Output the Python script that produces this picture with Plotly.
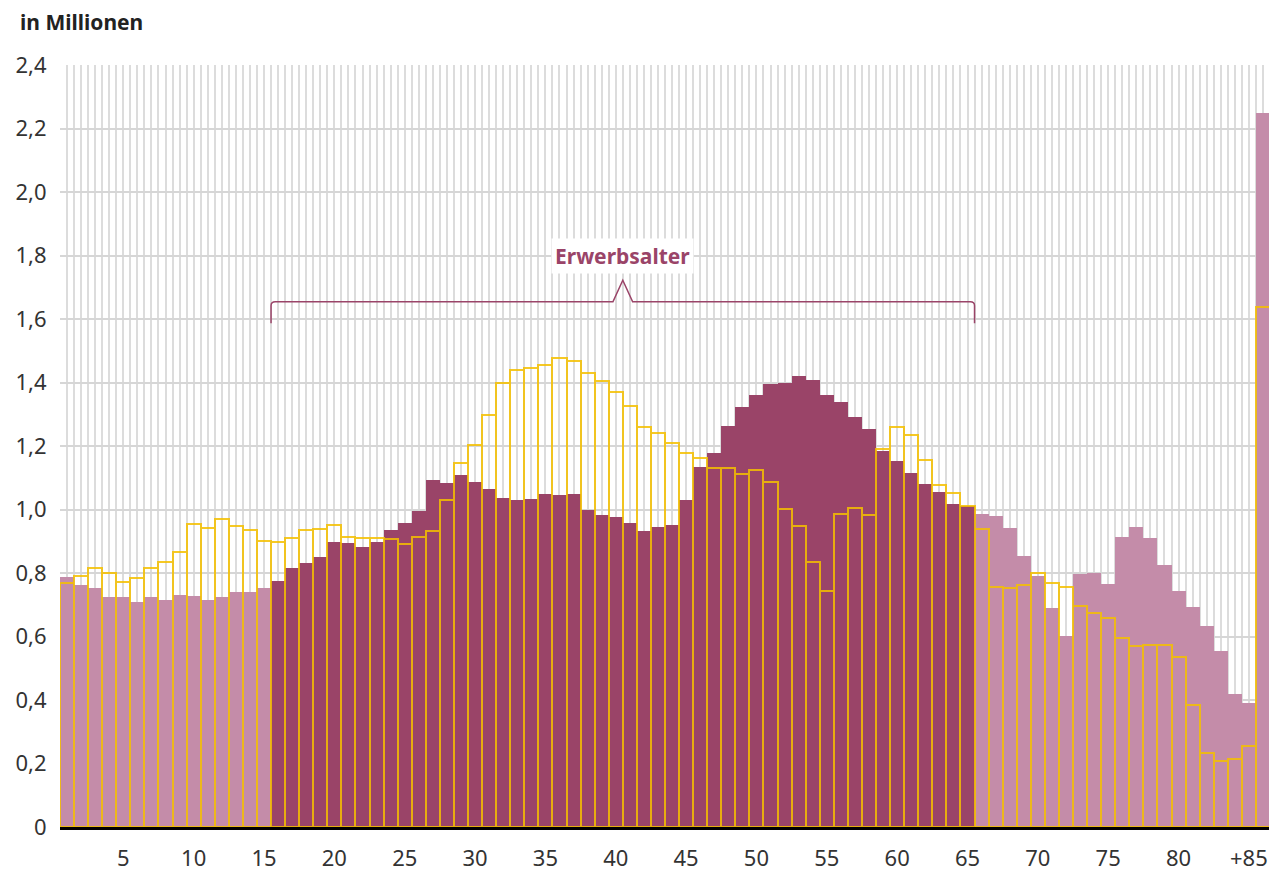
import plotly.graph_objects as go

# Alter (1 bis 86, letzter Balken = 85 und älter)
ages = list(range(1, 87))

# Bevölkerung heute, in Millionen
population = [0.787, 0.762, 0.752, 0.725, 0.723, 0.708, 0.725, 0.715, 0.731, 0.729,
              0.715, 0.723, 0.741, 0.741, 0.754, 0.775, 0.817, 0.830, 0.851, 0.899,
              0.896, 0.883, 0.899, 0.935, 0.956, 0.996, 1.093, 1.082, 1.109, 1.088,
              1.066, 1.035, 1.030, 1.032, 1.050, 1.046, 1.049, 0.998, 0.984, 0.975,
              0.956, 0.932, 0.944, 0.951, 1.030, 1.135, 1.177, 1.264, 1.324, 1.360,
              1.395, 1.399, 1.421, 1.408, 1.361, 1.340, 1.292, 1.254, 1.183, 1.154,
              1.116, 1.079, 1.054, 1.017, 1.011, 0.985, 0.980, 0.943, 0.855, 0.792,
              0.689, 0.602, 0.796, 0.799, 0.765, 0.914, 0.946, 0.911, 0.825, 0.744,
              0.692, 0.634, 0.555, 0.418, 0.390, 2.248]

# Vergleichsjahr (gelbe Umrisse), in Millionen
comparison = [0.770, 0.790, 0.815, 0.800, 0.773, 0.783, 0.815, 0.836, 0.867, 0.954,
              0.943, 0.970, 0.949, 0.935, 0.900, 0.899, 0.909, 0.937, 0.939, 0.950,
              0.914, 0.910, 0.910, 0.907, 0.891, 0.912, 0.932, 1.030, 1.145, 1.203,
              1.298, 1.400, 1.440, 1.445, 1.455, 1.476, 1.469, 1.429, 1.405, 1.369,
              1.326, 1.260, 1.240, 1.210, 1.177, 1.163, 1.130, 1.132, 1.113, 1.123,
              1.088, 1.002, 0.949, 0.836, 0.744, 0.987, 1.006, 0.983, 1.192, 1.259,
              1.235, 1.156, 1.077, 1.051, 1.012, 0.940, 0.757, 0.752, 0.762, 0.800,
              0.770, 0.757, 0.696, 0.673, 0.657, 0.594, 0.571, 0.573, 0.573, 0.536,
              0.384, 0.234, 0.209, 0.213, 0.255, 1.637]

tick_vals = [5, 10, 15, 20, 25, 30, 35, 40, 45, 50, 55, 60, 65, 70, 75, 80, 85]
tick_text = ["5", "10", "15", "20", "25", "30", "35", "40", "45", "50", "55", "60",
             "65", "70", "75", "80", "+85"]
y_vals = [0, 0.2, 0.4, 0.6, 0.8, 1.0, 1.2, 1.4, 1.6, 1.8, 2.0, 2.2, 2.4]
y_text = ["0", "0,2", "0,4", "0,6", "0,8", "1,0", "1,2", "1,4", "1,6", "1,8", "2,0", "2,2", "2,4"]

work_start, work_end = 16, 65

DARK = "#9a4468"
LIGHT = "#c48ca9"
YELLOW = "#f5c000"
FONT = "Noto Sans"

colors = [DARK if work_start <= a <= work_end else LIGHT for a in ages]

fig = go.Figure()
fig.add_trace(go.Bar(x=ages, y=population, marker=dict(color=colors, line=dict(width=0)),
                     name="heute"))
fig.add_trace(go.Bar(x=ages, y=comparison, opacity=0.85,
                     marker=dict(color="rgba(0,0,0,0)", line=dict(color=YELLOW, width=2)),
                     name="Vergleich"))

# Klammer über dem Erwerbsalter
x0, x1 = work_start - 0.5, work_end + 0.5
xm = (x0 + x1) / 2
yb, yl, yp = 1.587, 1.654, 1.722
r = 0.3
path = (f"M {x0},{yb} L {x0},{yl - 0.012} Q {x0},{yl} {x0 + r},{yl} "
        f"L {xm - 0.7},{yl} L {xm},{yp} L {xm + 0.7},{yl} "
        f"L {x1 - r},{yl} Q {x1},{yl} {x1},{yl - 0.012} L {x1},{yb}")
fig.add_shape(type="path", path=path, xref="x", yref="y",
              line=dict(color=DARK, width=1.5))
fig.add_annotation(x=xm, y=1.80, xref="x", yref="y", text="<b>Erwerbsalter</b>",
                   showarrow=False, bgcolor="white", borderpad=3,
                   font=dict(size=21, color=DARK, family=FONT))

fig.add_annotation(x=0, y=1, xref="paper", yref="paper", xshift=-42, yshift=43,
                   xanchor="left", yanchor="middle", text="<b>in Millionen</b>",
                   showarrow=False, font=dict(size=21, color="#222", family=FONT))

# the page body adds an 8px offset, so the figure is a bit smaller than the window
fig.update_layout(
    width=1269, height=867,
    margin=dict(l=52, r=7, t=57, b=48, autoexpand=False),
    barmode="overlay", bargap=0,
    showlegend=False,
    plot_bgcolor="white", paper_bgcolor="white",
    font=dict(family=FONT, size=22, color="#333"),
)
fig.update_xaxes(range=[0.5, 86.5], tickvals=tick_vals, ticktext=tick_text, automargin=False,
                 showgrid=True, gridcolor="#dcdcdc", gridwidth=1.5,
                 minor=dict(tick0=0.5, dtick=0.5, showgrid=True, gridcolor="#dcdcdc", gridwidth=1.5),
                 ticks="", zeroline=False, tickfont=dict(size=22, color="#333"),
                 ticklabelstandoff=10,
                 showline=True, linecolor="black", linewidth=3, layer="above traces")
fig.update_yaxes(range=[0, 2.4], tickvals=y_vals, ticktext=y_text, automargin=False,
                 showgrid=True, gridcolor="#d6d6d6", gridwidth=2, zeroline=False,
                 ticks="outside", ticklen=8, tickcolor="rgba(0,0,0,0)",
                 tickfont=dict(size=22, color="#333"))

fig.write_html("out.html")
